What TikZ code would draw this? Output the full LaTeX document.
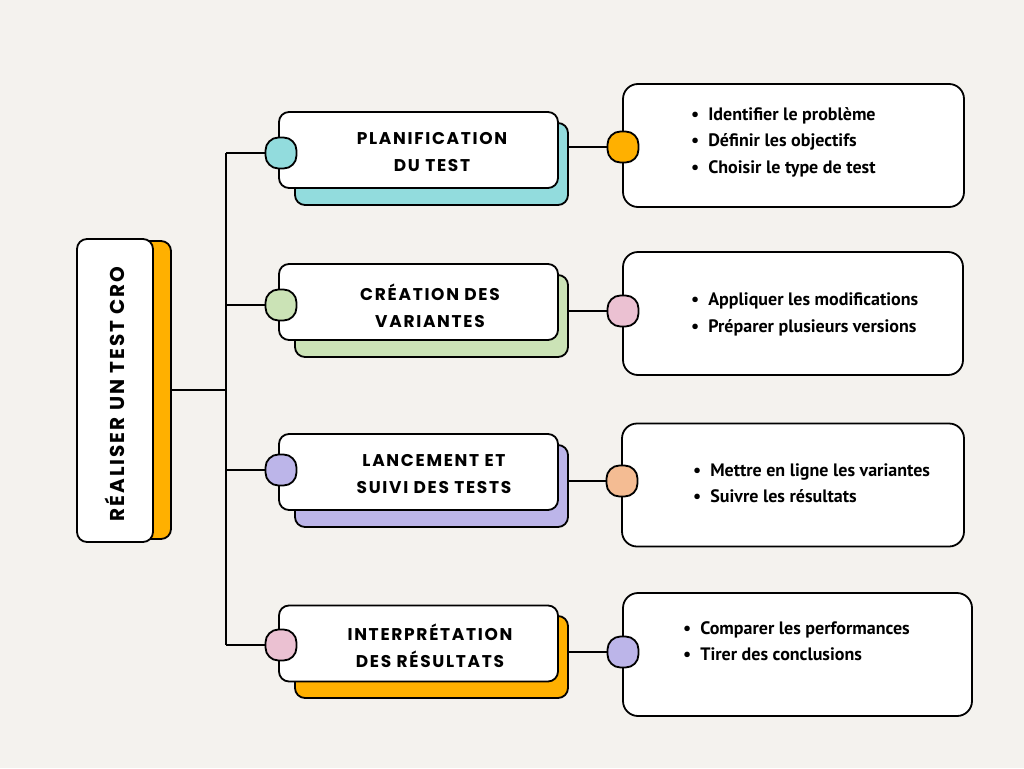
\documentclass[tikz,border=0pt]{standalone}
\usepackage{fontspec}
\setmainfont{PT Sans}
\newfontfamily\headfont[LetterSpace=10]{Poppins}
\usepackage{tikz}

\definecolor{paper}{HTML}{F4F2EE}
\definecolor{teal}{HTML}{92DCDD}
\definecolor{sage}{HTML}{CBE3B6}
\definecolor{lilac}{HTML}{BCB5E9}
\definecolor{amber}{HTML}{FFB000}
\definecolor{rose}{HTML}{EBC1D2}
\definecolor{peach}{HTML}{F4BC93}

\begin{document}
\begin{tikzpicture}[x=1pt,y=-1pt]
\tikzstyle{every node}+=[inner sep=0pt]
\tikzstyle{card}=[rectangle, draw=black, line width=1.8pt, fill=white, rounded corners=10pt]
\tikzstyle{shade}=[card, minimum width=273pt, minimum height=82pt]
\tikzstyle{front}=[card, minimum width=279pt, minimum height=76pt]
\tikzstyle{info}=[card, rounded corners=15pt, minimum height=123pt]
\tikzstyle{knob}=[card, rounded corners=13pt, minimum size=31pt]
\tikzstyle{title}=[font=\headfont\bfseries\fontsize{17}{27}\selectfont, align=center]
\tikzstyle{items}=[font=\bfseries\fontsize{18}{26.5}\selectfont, align=left]
\tikzstyle{wire}=[draw=black, line width=1.8pt]

\fill [paper] (0,0) rectangle (1024,768);
\useasboundingbox (0,0) rectangle (1024,768);

% main box
\node [card, fill=amber, minimum width=76pt, minimum height=298pt] (mainbg) at (133,390) {};
\node [card, minimum width=76pt, minimum height=303pt] (main) at (115,390.5) {};
\node [font=\headfont\bfseries\fontsize{20}{20}\selectfont, rotate=90] (maintxt) at (115,394) {RÉALISER UN TEST CRO};

% branch cards
\node [shade, fill=teal] (sh1) at (431.5,164) {};
\node [front] (b1) at (418.5,150) {};
\node [title] (t1) at (432,152) {PLANIFICATION\\DU TEST};
\node [shade, fill=sage] (sh2) at (431.5,316) {};
\node [front] (b2) at (418.5,302) {};
\node [title] (t2) at (430,306) {CRÉATION DES\\VARIANTES};
\node [shade, fill=lilac] (sh3) at (431.5,486) {};
\node [front] (b3) at (418.5,472) {};
\node [title] (t3) at (434,474) {LANCEMENT ET\\SUIVI DES TESTS};
\node [shade, fill=amber] (sh4) at (431.5,657) {};
\node [front] (b4) at (418.5,643.5) {};
\node [title] (t4) at (430,645.5) {INTERPRÉTATION\\DES RÉSULTATS};

% detail cards
\node [info, minimum width=341pt] (d1) at (793.5,145.5) {};
\node [items, anchor=west] (l1) at (691,142) {\textbullet\hspace{9pt}Identifier le problème\\\textbullet\hspace{9pt}Définir les objectifs\\\textbullet\hspace{9pt}Choisir le type de test};
\node [info, minimum width=340pt] (d2) at (793,313.5) {};
\node [items, anchor=west] (l2) at (691,314.5) {\textbullet\hspace{9pt}Appliquer les modifications\\\textbullet\hspace{9pt}Préparer plusieurs versions};
\node [info, minimum width=342pt] (d3) at (793,485) {};
\node [items, anchor=west] (l3) at (693,483) {\textbullet\hspace{9pt}Mettre en ligne les variantes\\\textbullet\hspace{9pt}Suivre les résultats};
\node [info, minimum width=349pt] (d4) at (797.5,654.5) {};
\node [items, anchor=west] (l4) at (683,641) {\textbullet\hspace{9pt}Comparer les performances\\\textbullet\hspace{9pt}Tirer des conclusions};

% knobs
\node [knob, fill=teal] (kl1) at (281,153) {};
\node [knob, fill=sage] (kl2) at (281,305) {};
\node [knob, fill=lilac] (kl3) at (281,470) {};
\node [knob, fill=rose] (kl4) at (281,645) {};
\node [knob, fill=amber] (kr1) at (623,147) {};
\node [knob, fill=rose] (kr2) at (623,311) {};
\node [knob, fill=peach] (kr3) at (622,481) {};
\node [knob, fill=lilac] (kr4) at (623,652) {};

% connectors
\coordinate (hub) at (226,390);
\draw [wire] (mainbg.east) -- (hub);
\draw [wire] (hub |- kl1) -- (hub |- kl4);
\draw [wire] (hub |- kl1) -- (kl1.west);
\draw [wire] (hub |- kl2) -- (kl2.west);
\draw [wire] (hub |- kl3) -- (kl3.west);
\draw [wire] (hub |- kl4) -- (kl4.west);
\draw [wire] (sh1.east |- kr1) -- (kr1.west);
\draw [wire] (sh2.east |- kr2) -- (kr2.west);
\draw [wire] (sh3.east |- kr3) -- (kr3.west);
\draw [wire] (sh4.east |- kr4) -- (kr4.west);
\end{tikzpicture}
\end{document}
